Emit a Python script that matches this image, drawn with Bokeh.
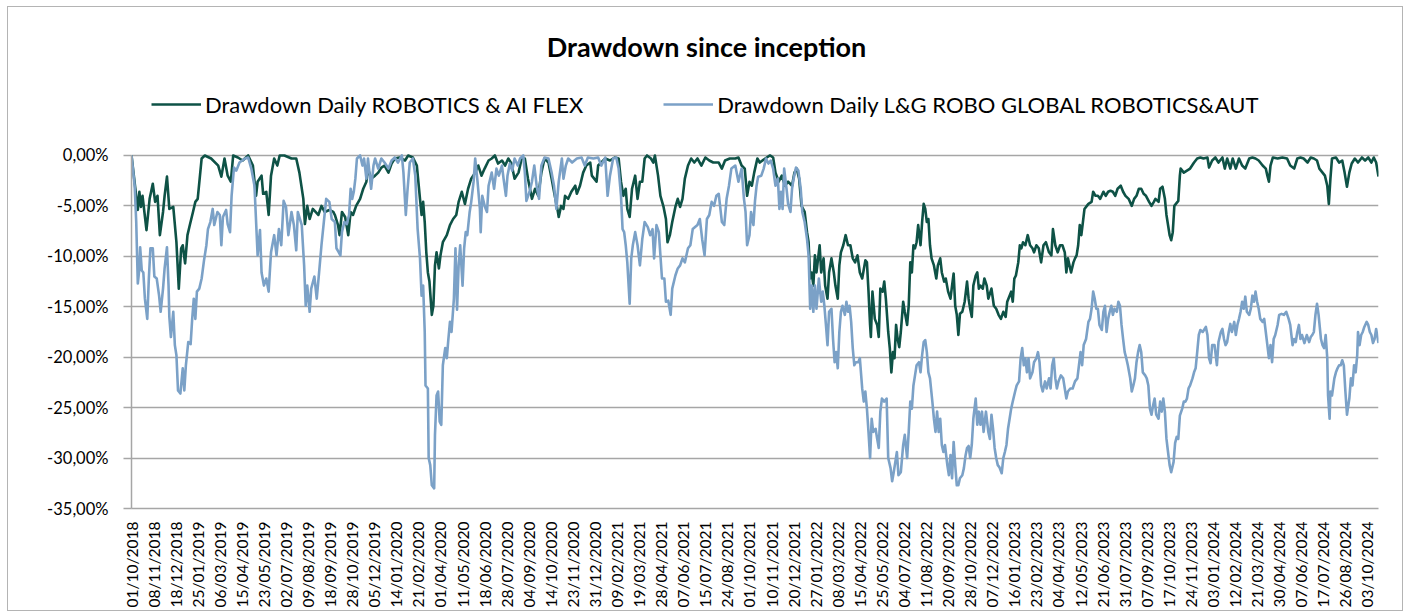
import math
from bokeh.plotting import figure
from bokeh.models import Range1d, FixedTicker, Legend, LegendItem, Label
from bokeh.embed import file_html
from bokeh.resources import INLINE

# ---------------- data ----------------
title_text = "Drawdown since inception"
series_names = ["Drawdown Daily ROBOTICS & AI FLEX", "Drawdown Daily L&G ROBO GLOBAL ROBOTICS&AUT"]

# category labels (one every 28 trading days)
tick_labels = [
    "01/10/2018", "08/11/2018", "18/12/2018", "25/01/2019", "06/03/2019", "15/04/2019",
    "23/05/2019", "02/07/2019", "09/08/2019", "18/09/2019", "28/10/2019", "05/12/2019",
    "14/01/2020", "21/02/2020", "01/04/2020", "11/05/2020", "18/06/2020", "28/07/2020",
    "04/09/2020", "14/10/2020", "23/11/2020", "31/12/2020", "09/02/2021", "19/03/2021",
    "28/04/2021", "07/06/2021", "15/07/2021", "24/08/2021", "01/10/2021", "10/11/2021",
    "20/12/2021", "27/01/2022", "08/03/2022", "15/04/2022", "25/05/2022", "04/07/2022",
    "11/08/2022", "20/09/2022", "28/10/2022", "07/12/2022", "16/01/2023", "23/02/2023",
    "04/04/2023", "12/05/2023", "21/06/2023", "31/07/2023", "07/09/2023", "17/10/2023",
    "24/11/2023", "03/01/2024", "12/02/2024", "21/03/2024", "30/04/2024", "07/06/2024",
    "17/07/2024", "26/08/2024", "03/10/2024",
]
label_step = 28
n_days = 1583
y_ticks = [-35, -30, -25, -20, -15, -10, -5, 0]
y_tick_labels = ["-35,00%", "-30,00%", "-25,00%", "-20,00%", "-15,00%", "-10,00%", "-5,00%", "0,00%"]

# ROBOTICS & AI FLEX drawdown (%), by trading-day index
flex_day = [0, 8, 10, 12, 14, 19, 23, 27, 30, 33, 36, 40, 42, 45, 48, 53, 57, 60, 63, 65, 68, 71, 74, 78, 81, 84, 89, 93, 101, 110, 114, 118, 122, 126, 129, 135, 141, 148, 154, 158, 160, 165, 167, 171, 174, 177, 181, 185, 188, 194, 203, 209, 213, 218, 220, 223, 226, 230, 237, 241, 245, 251, 256,
            258, 262, 264, 267, 271, 275, 278, 281, 285, 290, 294, 298, 300, 304, 309, 313, 317, 321, 326, 330, 334, 340, 347, 351, 357, 362, 366, 368, 370, 372, 374, 376, 378, 381, 383, 385, 387, 390, 392, 395, 400, 404, 408, 412, 415, 419, 423, 427, 431, 436, 440, 444, 448, 453, 457, 461, 465, 470, 474, 478, 482, 486, 491, 495, 499, 503, 508, 512, 516, 520, 524,
            529, 533, 537, 541, 542, 545, 548, 550, 554, 558, 563, 565, 569, 573, 577, 582, 584, 587, 590, 592, 596, 601, 607, 613, 618, 621, 624, 627, 629, 632, 635, 639, 642, 645, 648, 651, 654, 659, 662, 664, 668, 671, 675, 678, 680, 683, 686, 690, 693, 696, 699, 702, 706, 710, 714, 718, 723, 728, 733, 738, 745, 749, 753, 759, 766, 770, 774, 778, 781, 784, 787, 790,
            794, 797, 804, 810, 814, 817, 821, 825, 829, 833, 838, 841, 844, 847, 850, 854, 857, 859, 861, 863, 865, 867, 869, 873, 875, 878, 880, 883, 885, 888, 891, 893, 896, 898, 900, 903, 906, 909, 912, 915, 918, 921, 924, 927, 931, 933, 935, 937, 938, 940, 943, 946, 948, 950, 953, 955, 957, 960, 962, 964, 966, 968, 970, 972, 974, 976, 979, 981, 984, 986, 988, 990, 992, 994, 996, 998, 1001, 1003, 1005, 1007, 1009, 1011, 1013, 1015, 1018, 1021, 1023, 1026, 1028, 1031, 1033, 1036, 1039, 1041, 1043, 1045, 1047, 1049, 1051, 1054, 1057,
            1060, 1062, 1064, 1066, 1068, 1071, 1073, 1075, 1077, 1080, 1082, 1085, 1087, 1091, 1094, 1097, 1100, 1103, 1106, 1109, 1111, 1114, 1116, 1118, 1120, 1122, 1125, 1127, 1129, 1131, 1134, 1137, 1140, 1143, 1145, 1148, 1151, 1154, 1157, 1160, 1164, 1167, 1169, 1172, 1175, 1178, 1181, 1184, 1186, 1188, 1190, 1192, 1195, 1197, 1199, 1201, 1203, 1205, 1207, 1209, 1212, 1214, 1218, 1220, 1223, 1226, 1229, 1233, 1236, 1239, 1242, 1245, 1248, 1251, 1255, 1258, 1261, 1265, 1269, 1272, 1275, 1278, 1281, 1284, 1287, 1291, 1294, 1297, 1299, 1303, 1305, 1308, 1311, 1313, 1315, 1317, 1319, 1321, 1323,
            1325, 1328, 1330, 1331, 1335, 1339, 1343, 1348, 1352, 1356, 1360, 1365, 1367, 1371, 1375, 1379, 1384, 1387, 1390, 1394, 1397, 1401, 1405, 1409, 1413, 1418, 1422, 1426, 1430, 1435, 1439, 1441, 1443, 1445, 1448, 1454, 1460, 1466, 1470, 1475, 1479, 1483, 1487, 1492, 1496, 1500, 1504, 1507, 1511, 1514, 1517, 1519, 1521, 1523, 1528, 1532, 1536, 1539, 1542, 1545, 1548, 1552, 1556, 1561, 1565, 1569, 1573, 1576, 1579, 1582]
flex_dd = [0.0, -5.4, -3.6, -5.1, -4.0, -7.4, -4.3, -2.8, -4.6, -4.0, -7.9, -5.6, -4.0, -2.1, -5.3, -5.1, -8.6, -13.2, -9.2, -8.9, -10.7, -7.9, -6.9, -5.6, -4.6, -4.3, -0.3, 0.0, -0.3, -1.0, -2.1, -0.3, -2.0, -2.6, 0.0, -0.2, -0.5, 0.0, -1.0, -4.0, -2.6, -2.0, -3.8, -3.6, -5.9, -2.0, -0.3, -1.0, 0.0, 0.0, -0.3, -0.3, -1.7, -4.3, -6.8, -5.0, -6.3, -5.3, -5.9, -5.0, -5.6, -5.4, -5.6,
           -5.9, -6.9, -7.9, -5.6, -6.1, -7.9, -5.6, -5.9, -5.0, -4.3, -3.3, -2.6, -1.3, -2.3, -2.0, -1.7, -1.2, -1.0, -1.7, -0.8, -0.3, -0.2, -0.5, 0.0, -0.2, -1.0, -4.3, -5.9, -4.6, -6.6, -9.6, -11.6, -12.5, -15.8, -14.9, -10.9, -9.6, -11.2, -9.9, -8.6, -7.9, -6.9, -6.3, -5.9, -4.6, -3.6, -4.8, -3.3, -2.3, -1.7, -1.0, -2.0, -1.3, -0.5, -0.3, 0.0, -0.8, -0.5, -1.0, -0.3, -0.8, -2.3, -1.7, -0.3, -0.3, -2.3, -4.3, -3.3, -4.0, -1.7, -0.3,
           -0.7, -2.3, -4.0, -5.6, -6.1, -5.0, -5.3, -4.0, -4.3, -3.6, -3.0, -3.8, -3.0, -1.7, -1.0, -0.7, -2.0, -2.3, -2.6, -1.0, -0.7, -0.3, -0.5, -0.2, -0.3, -2.6, -4.0, -3.3, -5.3, -6.1, -3.3, -2.0, -4.3, -2.6, -2.6, -0.3, 0.0, -0.3, -0.7, 0.0, -2.0, -4.0, -5.1, -6.3, -8.6, -7.9, -6.6, -5.1, -4.3, -5.1, -4.3, -2.3, -1.0, -0.3, -0.7, -0.3, -1.0, -0.2, -0.5, -0.7, -0.7, -1.3, -0.5, -0.3, -0.3, -0.2, -1.0, -1.3, -4.0, -2.6, -3.0, -1.7,
           -0.3, -0.7, -0.3, 0.0, -0.2, -1.7, -2.6, -2.0, -3.0, -2.6, -3.0, -1.7, -1.3, -2.3, -5.0, -5.6, -7.6, -8.6, -12.2, -11.6, -12.9, -9.9, -11.6, -8.9, -11.6, -10.2, -12.9, -14.2, -11.6, -10.2, -11.6, -12.9, -14.2, -10.9, -9.6, -8.9, -7.9, -8.9, -8.9, -10.2, -10.6, -9.9, -11.6, -12.2, -10.4, -10.6, -13.5, -16.8, -18.0, -13.5, -16.2, -16.8, -18.0, -13.2, -13.5, -12.5, -14.2, -17.5, -19.1, -21.5, -19.5, -20.1, -16.8, -18.2, -19.0, -17.5, -14.5, -15.5, -16.8, -14.9, -10.6, -11.6, -8.9, -9.2, -8.6, -6.9, -8.9, -6.6, -4.8, -5.3, -6.6, -6.3, -8.9, -10.2, -10.9, -12.2, -10.9, -10.2, -11.6, -12.5, -12.2, -13.5, -14.2, -12.9, -11.7, -14.9, -15.8, -17.8, -15.7, -15.5, -14.5,
           -12.5, -14.2, -15.2, -16.0, -12.9, -11.9, -11.6, -13.2, -12.9, -13.2, -12.2, -12.9, -14.2, -13.2, -14.9, -15.2, -15.8, -16.2, -15.5, -16.0, -14.5, -13.9, -13.5, -14.5, -12.2, -11.9, -10.6, -8.9, -9.2, -8.6, -8.9, -7.9, -8.9, -9.2, -9.6, -8.9, -9.2, -10.6, -8.9, -8.6, -9.6, -9.9, -7.3, -8.9, -9.6, -8.9, -8.9, -9.6, -11.6, -10.2, -10.9, -11.6, -10.6, -10.2, -9.9, -8.9, -6.9, -7.9, -6.6, -5.3, -5.0, -4.8, -4.6, -3.6, -4.0, -4.0, -4.3, -3.6, -4.0, -3.6, -3.5, -3.6, -4.0, -3.3, -3.0, -3.6, -4.0, -4.3, -5.0, -4.3, -4.0, -3.3, -3.3, -3.8, -4.0, -4.6, -5.0, -4.6, -4.3, -4.6, -3.3, -3.1, -4.3, -5.9, -6.9, -7.9, -8.4, -7.6, -5.0,
           -4.8, -4.5, -2.0, -1.3, -1.7, -1.5, -1.3, -0.7, -0.3, -0.2, -0.3, -0.2, -1.2, -0.5, -0.2, -0.7, -0.2, -1.3, -0.3, -1.3, -0.3, -1.3, -0.3, -1.0, -1.3, -0.3, -0.2, -0.3, -0.5, -1.0, -1.3, -2.0, -2.6, -1.0, -0.2, -0.3, -0.2, -0.3, -1.0, -1.3, -0.3, -0.2, -0.3, -0.7, -0.2, -0.3, -0.5, -1.3, -1.7, -2.0, -3.0, -4.8, -2.3, -0.3, -0.2, -0.7, -0.5, -1.7, -3.1, -1.7, -0.8, -0.3, -0.7, -0.2, -0.5, -0.2, -0.7, -0.2, -0.7, -2.1]

# L&G ROBO GLOBAL ROBOTICS&AUT drawdown (%), by trading-day index
robo_day = [0, 4, 6, 8, 10, 11, 13, 15, 17, 20, 22, 24, 27, 29, 32, 35, 37, 40, 42, 45, 47, 48, 50, 53, 55, 57, 59, 62, 65, 67, 69, 72, 75, 77, 79, 81, 83, 86, 89, 92, 95, 97, 100, 103, 105, 109, 112, 114, 116, 120, 122, 125, 127, 130, 133, 137, 144, 148, 152, 156, 160, 163, 165, 168, 171, 174, 177, 181, 184, 187, 190, 193, 196, 199, 203, 206, 209, 211, 216, 219, 221, 223, 226, 228, 232, 235, 238, 241, 244, 247, 251, 254,
            258, 260, 263, 265, 267, 270, 273, 276, 278, 280, 282, 284, 286, 290, 293, 295, 298, 300, 304, 307, 309, 313, 317, 321, 326, 330, 334, 338, 343, 345, 348, 350, 353, 357, 360, 363, 366, 368, 370, 372, 373, 376, 377, 379, 381, 384, 385, 387, 389, 391, 393, 395, 398, 400, 402, 404, 406, 409, 411, 413, 415, 417, 420, 422, 424, 426, 429, 431, 434, 436, 439, 442, 443, 445, 448, 451, 453, 457, 460, 463, 466, 470, 472, 475, 477, 480, 483, 486, 490, 493, 497, 499, 501, 505, 508, 511, 514, 517, 520, 524,
            529, 533, 536, 539, 542, 546, 548, 551, 554, 559, 565, 571, 575, 579, 586, 592, 596, 601, 604, 607, 611, 615, 618, 621, 623, 625, 627, 629, 632, 634, 636, 639, 642, 645, 648, 651, 655, 658, 661, 663, 666, 669, 673, 676, 678, 681, 684, 686, 690, 693, 696, 699, 702, 706, 709, 712, 715, 718, 721, 724, 727, 730, 733, 736, 739, 742, 745, 749, 752, 755, 758, 761, 766, 770, 774, 777, 779, 781, 784, 786, 789,
            791, 793, 795, 799, 802, 805, 808, 811, 814, 817, 820, 822, 824, 826, 828, 831, 833, 836, 838, 840, 843, 846, 849, 851, 854, 857, 859, 861, 863, 865, 867, 869, 872, 875, 877, 879, 881, 883, 885, 888, 890, 892, 894, 896, 898, 900, 902, 905, 907, 909, 911, 913, 915, 917, 919, 922, 924, 927, 929, 931, 933, 935, 937, 939, 941, 944, 946, 948, 950, 952, 955, 958, 960, 963, 965, 967, 969, 971, 973, 976, 979, 981, 984, 986, 988, 990, 992, 994, 996, 999, 1001, 1003, 1005, 1007, 1009, 1011, 1013, 1016, 1018, 1020, 1022, 1024, 1026, 1028, 1030, 1032, 1035, 1037, 1039, 1041, 1043, 1045, 1047, 1049, 1051, 1054, 1056,
            1058, 1060, 1062, 1064, 1066, 1068, 1071, 1073, 1075, 1077, 1079, 1081, 1084, 1087, 1089, 1091, 1093, 1095, 1097, 1099, 1101, 1104, 1106, 1108, 1110, 1112, 1114, 1116, 1118, 1121, 1123, 1126, 1128, 1130, 1132, 1134, 1136, 1138, 1140, 1143, 1145, 1148, 1150, 1152, 1154, 1156, 1159, 1161, 1164, 1166, 1168, 1170, 1172, 1174, 1176, 1179, 1182, 1184, 1186, 1188, 1191, 1194, 1197, 1200, 1202, 1204, 1206, 1208, 1211, 1214, 1216, 1218, 1220, 1222, 1224, 1226, 1228, 1231, 1233, 1235, 1237, 1239, 1241, 1243, 1245, 1247, 1250, 1252, 1254, 1256, 1258, 1260, 1262, 1264, 1267, 1269, 1271, 1273, 1275, 1277, 1279, 1281, 1283, 1286, 1288, 1290, 1292, 1294, 1296, 1298, 1300, 1303, 1305, 1307, 1309, 1311, 1313, 1315, 1317, 1319, 1322,
            1324, 1326, 1328, 1330, 1333, 1335, 1337, 1339, 1341, 1343, 1346, 1348, 1350, 1352, 1354, 1356, 1359, 1363, 1365, 1367, 1369, 1371, 1374, 1377, 1379, 1382, 1384, 1386, 1388, 1390, 1392, 1394, 1396, 1399, 1401, 1403, 1405, 1407, 1409, 1411, 1413, 1415, 1418, 1420, 1422, 1424, 1426, 1428, 1430, 1432, 1435, 1437, 1439, 1441, 1443, 1445, 1447, 1449, 1451, 1454, 1456, 1459, 1462, 1465, 1468, 1470, 1473, 1475, 1477, 1479, 1481, 1483, 1485, 1488, 1491, 1494, 1496, 1498, 1500, 1502, 1504, 1506, 1509, 1511, 1513, 1515, 1517, 1518, 1520, 1521, 1523, 1526, 1528, 1530, 1532, 1534, 1536, 1538, 1540, 1542, 1545, 1547, 1549, 1551, 1553, 1555, 1556, 1558, 1560, 1562, 1564, 1567, 1569, 1571, 1573, 1575, 1577, 1579, 1582]
robo_dd = [0.0, -3.0, -6.6, -12.7, -11.2, -9.1, -11.4, -11.6, -14.2, -16.2, -12.2, -9.2, -9.2, -12.0, -12.2, -13.9, -15.5, -13.2, -11.2, -9.1, -12.9, -16.0, -18.0, -15.5, -18.8, -19.8, -23.3, -23.6, -21.1, -23.3, -20.8, -18.5, -18.7, -16.2, -14.2, -16.2, -13.5, -13.2, -12.2, -10.4, -8.9, -7.3, -6.6, -5.3, -6.9, -5.6, -5.9, -8.9, -6.1, -5.4, -6.8, -7.6, -4.0, -1.2, -1.5, -0.7, -0.3, -0.2, -1.3, -3.0, -9.9, -7.4, -11.6, -12.9, -12.2, -13.5, -9.6, -7.9, -9.9, -7.3, -8.9, -4.5, -5.1, -7.9, -5.6, -6.9, -9.4, -5.6, -6.9, -10.9, -14.9, -12.9, -15.5, -13.2, -12.0, -14.2, -11.6, -8.9, -6.6, -4.3, -4.6, -6.3,
           -6.6, -9.2, -9.6, -9.9, -7.6, -6.6, -6.8, -5.9, -3.3, -4.3, -3.6, -2.3, -0.3, 0.0, -1.0, -0.3, -2.3, -0.3, -3.3, -1.0, -0.3, -1.3, -0.3, -0.7, -1.3, -0.5, -0.2, -0.7, 0.0, -1.7, -5.9, -3.6, -0.7, -0.3, -2.0, -7.3, -10.2, -13.9, -12.9, -17.5, -22.8, -23.1, -30.0, -30.7, -32.7, -33.0, -27.7, -23.8, -23.4, -26.4, -26.7, -20.8, -19.1, -20.1, -18.2, -16.5, -17.5, -14.2, -9.2, -15.3, -10.9, -8.9, -12.9, -9.2, -7.6, -7.9, -5.6, -4.6, -2.6, -0.3, -2.6, -5.3, -7.6, -4.0, -5.0, -5.6, -3.0, -1.7, -3.3, -1.3, -2.0, -1.0, -2.3, -4.0, -2.0, -0.8, -1.5, -0.3, -1.0, -0.3, 0.0, -1.7, -4.5, -3.6, -2.6, -1.0, -3.0, -4.3, -1.0, -0.2,
           -0.3, -1.7, -3.0, -5.3, -2.6, -0.3, -2.3, -1.0, -0.3, -0.7, -0.3, -0.2, -1.0, -0.2, -0.3, -0.2, -1.0, -0.2, -4.0, -2.0, -0.3, -0.2, -1.3, -4.0, -7.3, -7.6, -8.9, -10.6, -14.7, -10.2, -8.9, -7.6, -8.9, -10.9, -8.3, -6.6, -7.1, -7.9, -7.3, -10.2, -6.9, -7.6, -12.2, -12.2, -14.5, -14.4, -15.8, -13.2, -11.9, -11.2, -10.9, -10.2, -10.6, -9.2, -8.9, -7.3, -7.1, -6.9, -6.3, -8.3, -9.9, -6.3, -5.9, -4.6, -5.0, -4.0, -3.8, -6.6, -6.9, -4.3, -3.0, -1.3, -1.0, -2.6, -1.3, -4.3, -5.6, -8.9, -7.9, -5.6, -6.9,
           -4.5, -3.0, -2.1, -2.0, -1.3, -0.3, -0.8, -0.5, -1.3, -3.0, -2.3, -5.3, -3.6, -5.3, -1.3, -3.3, -4.8, -5.6, -3.3, -2.3, -1.2, -1.5, -3.3, -5.6, -6.6, -8.3, -9.9, -15.2, -12.9, -15.5, -12.9, -15.2, -12.2, -14.5, -13.5, -14.9, -16.8, -18.8, -15.5, -15.2, -18.2, -20.5, -19.5, -21.1, -17.5, -15.5, -14.9, -15.8, -14.5, -15.5, -14.9, -16.5, -19.1, -20.8, -20.5, -20.5, -20.1, -23.1, -24.4, -23.4, -25.1, -27.4, -30.0, -26.1, -27.4, -27.1, -28.1, -29.0, -25.4, -24.1, -24.4, -24.1, -30.0, -31.0, -32.3, -31.4, -30.4, -29.4, -31.7, -31.4, -28.7, -27.7, -30.0, -27.4, -24.4, -25.1, -22.8, -21.8, -20.8, -20.5, -21.5, -19.8, -18.5, -18.3, -19.5, -21.5, -22.1, -24.4, -26.1, -27.4, -25.4, -27.4, -26.1, -28.7, -29.4, -28.7, -30.7, -31.7, -29.7, -32.0, -28.4, -30.7, -32.7, -32.7, -32.0, -31.7, -31.0,
           -29.8, -29.0, -28.8, -30.0, -28.7, -26.1, -24.1, -26.7, -25.4, -26.7, -25.4, -27.4, -25.4, -27.4, -28.1, -25.7, -27.1, -29.0, -30.0, -30.7, -30.9, -31.5, -30.0, -29.4, -28.7, -27.1, -26.1, -25.1, -24.4, -23.4, -22.8, -22.4, -20.1, -19.1, -20.8, -20.1, -21.5, -20.1, -22.1, -21.5, -20.5, -20.1, -19.5, -20.5, -22.8, -23.4, -22.4, -23.1, -22.1, -23.1, -20.8, -20.1, -22.1, -23.1, -22.4, -21.8, -22.1, -23.1, -24.1, -23.4, -23.1, -23.1, -22.4, -22.1, -20.8, -19.5, -20.8, -18.8, -18.2, -16.5, -16.2, -15.2, -13.5, -14.2, -15.2, -15.2, -16.8, -17.3, -15.5, -14.9, -17.5, -16.2, -15.5, -14.9, -15.8, -15.2, -15.5, -14.5, -14.9, -16.8, -18.2, -19.5, -20.1, -20.8, -22.1, -23.4, -22.8, -22.1, -20.5, -19.5, -18.8, -19.5, -21.5, -21.8, -22.1, -22.8, -25.1, -25.7, -24.8, -24.1, -25.7, -26.1, -24.4, -25.4, -24.1, -25.4, -28.1, -29.4, -30.7, -31.4, -30.4,
           -28.5, -27.9, -28.1, -25.8, -25.1, -24.4, -24.4, -24.1, -23.1, -22.8, -22.1, -21.5, -21.1, -19.5, -17.8, -17.3, -17.5, -17.0, -17.8, -20.1, -20.6, -18.8, -18.8, -20.8, -18.5, -17.5, -17.2, -18.2, -18.8, -18.5, -17.5, -16.7, -17.5, -16.5, -17.8, -16.8, -16.2, -15.5, -14.5, -15.2, -14.0, -15.5, -15.8, -15.2, -13.9, -14.5, -13.5, -14.5, -15.2, -16.2, -16.5, -16.2, -17.5, -18.8, -20.1, -18.8, -20.5, -18.2, -17.8, -16.8, -15.8, -15.7, -15.8, -15.5, -16.2, -16.8, -18.8, -18.2, -18.5, -17.5, -16.8, -18.2, -17.8, -18.6, -17.8, -18.5, -18.0, -17.8, -17.5, -15.8, -14.7, -15.8, -18.2, -18.8, -19.1, -17.8, -20.1, -23.8, -26.1, -23.4, -23.8, -22.1, -21.5, -21.1, -20.8, -20.8, -20.3, -20.8, -23.4, -25.7, -24.1, -22.1, -22.8, -20.8, -21.5, -19.8, -17.5, -18.8, -17.8, -17.5, -17.0, -16.5, -16.8, -17.5, -17.8, -18.6, -18.2, -17.2, -18.6]

# ---------------- figure ----------------
GRID = "#a6a6a6"
FONT = "Lato"

# frame spans from the top of the chart area; the y axis itself is bounded to [-35, 0]
Y_TOP = 14.67

p = figure(width=1396, height=605, output_backend="svg", toolbar_location=None,
           x_range=Range1d(0, n_days - 1), y_range=Range1d(y_ticks[0], Y_TOP),
           min_border_left=123, min_border_right=26, min_border_top=0, min_border_bottom=104)
p.outline_line_color = None
p.background_fill_color = "white"
p.border_fill_color = "white"
p.styles = {"border": "1px solid #b4b4b4", "margin-left": "7px", "margin-top": "6px"}

xa = p.xaxis[0]
xa.ticker = FixedTicker(ticks=[i * label_step for i in range(len(tick_labels))])
xa.major_label_overrides = {i * label_step: lab for i, lab in enumerate(tick_labels)}
xa.major_label_orientation = math.pi / 2
xa.major_tick_line_color = None
xa.minor_tick_line_color = None
xa.axis_line_color = GRID
xa.axis_line_width = 1.5
xa.major_label_standoff = 7
xa.major_label_text_font = FONT
xa.major_label_text_font_size = "15.5px"
xa.major_label_text_color = "black"

ya = p.yaxis[0]
ya.ticker = FixedTicker(ticks=y_ticks)
ya.bounds = (y_ticks[0], y_ticks[-1])
ya.major_label_overrides = {t: lab for t, lab in zip(y_ticks, y_tick_labels)}
ya.axis_line_color = GRID
ya.axis_line_width = 1.5
ya.major_tick_line_color = GRID
ya.major_tick_line_width = 1.5
ya.major_tick_out = 8
ya.major_tick_in = 0
ya.minor_tick_line_color = None
ya.major_label_standoff = 15
ya.major_label_text_font = FONT
ya.major_label_text_font_size = "16.5px"
ya.major_label_text_color = "black"

p.xgrid.grid_line_color = None
p.ygrid.grid_line_color = GRID
p.ygrid.grid_line_width = 1.5

g = p.line(flex_day, flex_dd, line_color="#0e5246", line_width=2.6, line_join="round")
b = p.line(robo_day, robo_dd, line_color="#7ba1c7", line_width=2.6, line_join="round")

legend = Legend(items=[LegendItem(label=series_names[0], renderers=[g]),
                       LegendItem(label=series_names[1], renderers=[b])],
                orientation="horizontal", location=(20, 390),
                glyph_width=50, glyph_height=28, label_standoff=4, spacing=80,
                padding=0, margin=0, border_line_color=None, background_fill_alpha=0,
                label_text_font=FONT, label_text_font_size="22px", label_text_color="black")
p.add_layout(legend, "center")

title = Label(x=575, y=462, x_units="screen", y_units="screen", text=title_text,
              text_align="center", text_baseline="middle", text_font=FONT,
              text_font_style="bold", text_font_size="27px", text_color="black")
p.add_layout(title)

open("out.html", "w").write(file_html(p, INLINE))
